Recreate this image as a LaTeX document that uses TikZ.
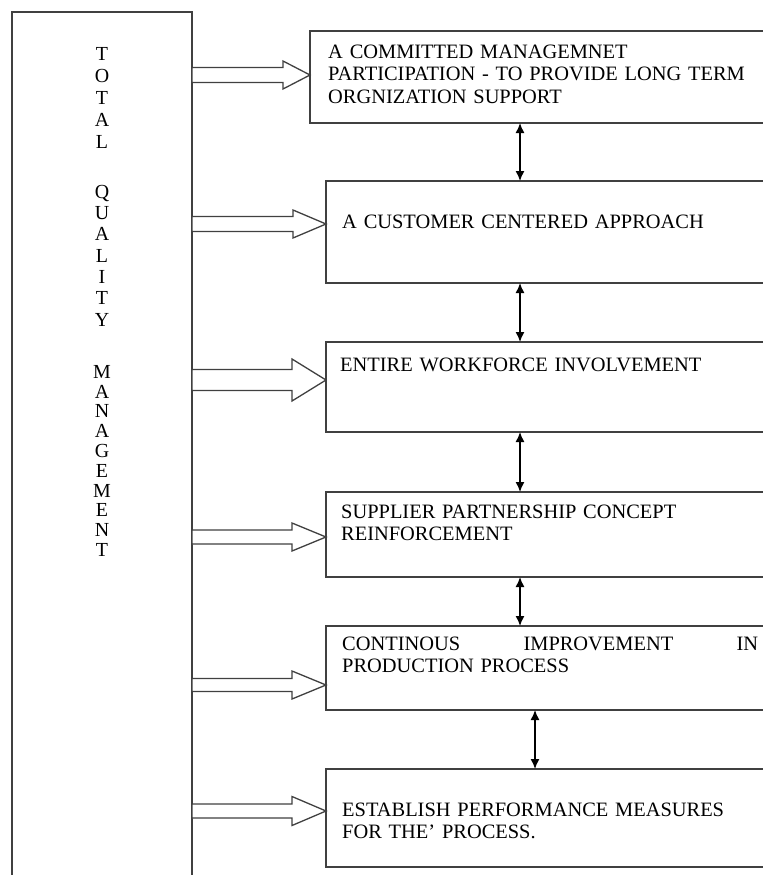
\documentclass[tikz,border=0pt]{standalone}
\usepackage{fontspec}
\setmainfont{Liberation Serif}
\usetikzlibrary{arrows.meta,calc}
\tikzset{
	box/.style={draw=black!75, line width=1.3bp, outer sep=0pt, inner sep=0pt, anchor=north west},
	txt/.style={inner sep=0pt, anchor=base west, align=left, text width=#1,
			font=\fontsize{20.5}{22.8}\selectfont},
	txt/.default=440bp,
	stack/.style={inner sep=0pt, anchor=north, align=center, font=\fontsize{20}{#1}\selectfont},
	hollow/.style={draw=black!75, line width=1.3bp, fill=white, line join=miter},
	dbl/.style={{Latex[length=10bp,width=9bp]}-{Latex[length=10bp,width=9bp]}, line width=1.4bp}
}

\begin{document}
\begin{tikzpicture}[x=1bp,y=-1bp]
	\useasboundingbox (0,0) rectangle (763,875);
	% Left column
	\node[box, minimum width=180bp, minimum height=900bp] (tqm) at (12,12) {};
	\node[stack=22bp] (total) at (102,47) {T\\O\\T\\A\\L};
	\node[stack=21.3bp] (quality) at (102,185) {Q\\U\\A\\L\\I\\T\\Y};
	\node[stack=19.8bp] (mgmt) at (102,365) {M\\A\\N\\A\\G\\E\\M\\E\\N\\T};
	% Boxes on the right
	\node[box, minimum width=490bp, minimum height=92bp] (b1) at (310,31) {};
	\node[box, minimum width=474bp, minimum height=102bp] (b2) at (326,181) {};
	\node[box, minimum width=474bp, minimum height=90bp] (b3) at (326,342) {};
	\node[box, minimum width=474bp, minimum height=85bp] (b4) at (326,492) {};
	\node[box, minimum width=474bp, minimum height=84bp] (b5) at (326,626) {};
	\node[box, minimum width=474bp, minimum height=98bp] (b6) at (326,769) {};
	% Texts
	\node[txt] (t1) at (328,58) {A COMMITTED MANAGEMNET\\PARTICIPATION - TO PROVIDE LONG TERM\\ORGNIZATION SUPPORT};
	\node[txt] (t2) at (342,228) {A CUSTOMER CENTERED APPROACH};
	\node[txt] (t3) at (340,371) {ENTIRE WORKFORCE INVOLVEMENT};
	\node[txt] (t4) at (341,518) {SUPPLIER PARTNERSHIP CONCEPT\\REINFORCEMENT};
	\node[txt=416bp] (t5) at (342,650) {CONTINOUS\hfill IMPROVEMENT\hfill IN\\PRODUCTION PROCESS};
	\node[txt] (t6) at (342,816) {ESTABLISH PERFORMANCE MEASURES\\FOR THE' PROCESS.};
	% Hollow arrows
	\foreach \b/\y/\s/\h/\l in {b1/75/7.5/14/27, b2/224/7.5/14/33, b3/380/10.5/21/34,
			b4/537/7/14/34, b5/685/6.5/14/34, b6/811/7/14.5/34}
		{
			\coordinate (from) at (tqm.east |- 0,\y);
			\coordinate (to) at (\b.west |- 0,\y);
			\draw[hollow] ($(from)+(0,-\s)$) -- ($(to)+(-\l,-\s)$) -- ($(to)+(-\l,-\h)$) -- (to)
			-- ($(to)+(-\l,\h)$) -- ($(to)+(-\l,\s)$) -- ($(from)+(0,\s)$) -- cycle;
		}
	% Double arrows
	\draw[dbl] (b1.south -| 520,0) -- (b2.north -| 520,0);
	\draw[dbl] (b2.south -| 520,0) -- (b3.north -| 520,0);
	\draw[dbl] (b3.south -| 520,0) -- (b4.north -| 520,0);
	\draw[dbl] (b4.south -| 520,0) -- (b5.north -| 520,0);
	\draw[dbl] (b5.south -| 535,0) -- (b6.north -| 535,0);
\end{tikzpicture}
\end{document}
